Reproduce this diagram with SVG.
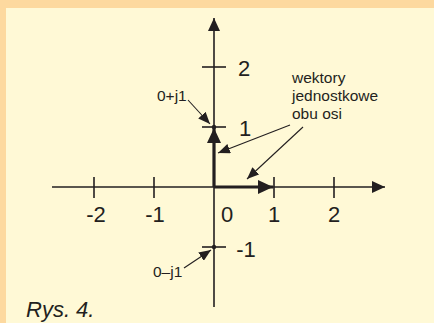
<svg xmlns="http://www.w3.org/2000/svg" width="434" height="323" viewBox="0 0 434 323">
<defs>
<style>
.ax{stroke:#231f20;stroke-width:1.6;fill:none}
.vec{stroke:#231f20;stroke-width:3.2;fill:none}
.ptr{stroke:#231f20;stroke-width:1.1;fill:none}
.lbl{font-family:"Liberation Sans",Arial,sans-serif;font-size:22px;fill:#231f20}
.sm{font-family:"Liberation Sans",Arial,sans-serif;font-size:15.5px;fill:#231f20}
.cap{font-family:"Liberation Sans",Arial,sans-serif;font-size:22px;font-style:italic;fill:#231f20}
</style>
<marker id="ah" viewBox="0 0 12 10" refX="12" refY="5" markerWidth="12" markerHeight="10" markerUnits="userSpaceOnUse" orient="auto"><path d="M0,0 L12,5 L0,10 Z" fill="#231f20"/></marker>
<marker id="axh" viewBox="0 0 13 12" refX="13" refY="6" markerWidth="13" markerHeight="12" markerUnits="userSpaceOnUse" orient="auto"><path d="M0,0 L13,6 L0,12 Z" fill="#231f20"/></marker>
<marker id="vh" viewBox="0 0 15 14" refX="15" refY="7" markerWidth="15" markerHeight="14" markerUnits="userSpaceOnUse" orient="auto"><path d="M0,0 L15,7 L0,14 Z" fill="#231f20"/></marker>
</defs>
<rect x="0" y="0" width="434" height="323" fill="#fdd99f"/>
<rect x="6" y="8" width="428" height="315" fill="#fff9d6"/>
<g id="connectors">
<line id="x-axis" class="ax" x1="52" y1="187" x2="385" y2="187" marker-end="url(#axh)"/>
<line id="y-axis" class="ax" x1="214" y1="307" x2="214" y2="18" marker-end="url(#axh)"/>
<line class="ax" x1="94" y1="177" x2="94" y2="198"/>
<line class="ax" x1="154" y1="177" x2="154" y2="198"/>
<line class="ax" x1="274" y1="177" x2="274" y2="198"/>
<line class="ax" x1="334" y1="177" x2="334" y2="198"/>
<line class="ax" x1="202" y1="67" x2="226" y2="67"/>
<line class="ax" x1="202" y1="127" x2="226" y2="127"/>
<line class="ax" x1="202" y1="247" x2="226" y2="247"/>
<line class="vec" x1="214" y1="187" x2="214" y2="128" marker-end="url(#vh)"/>
<line class="vec" x1="214" y1="187" x2="273" y2="187" marker-end="url(#vh)"/>
<line class="ptr" x1="188" y1="100" x2="210" y2="124" marker-end="url(#ah)"/>
<line class="ptr" x1="184" y1="268" x2="211" y2="250" marker-end="url(#ah)"/>
<line class="ptr" x1="290" y1="125" x2="218" y2="153" marker-end="url(#ah)"/>
<line class="ptr" x1="303" y1="127" x2="247" y2="179" marker-end="url(#ah)"/>
</g>
<g id="points">
<circle cx="214" cy="127" r="2.2" fill="#231f20"/>
<circle cx="214" cy="247" r="2.2" fill="#231f20"/>
</g>
<g id="labels-x">
<text class="lbl" x="96" y="222" text-anchor="middle">-2</text>
<text class="lbl" x="155" y="222" text-anchor="middle">-1</text>
<text class="lbl" x="227" y="222" text-anchor="middle">0</text>
<text class="lbl" x="274" y="222" text-anchor="middle">1</text>
<text class="lbl" x="334" y="222" text-anchor="middle">2</text>
</g>
<g id="labels-y">
<text class="lbl" x="244" y="76" text-anchor="middle">2</text>
<text class="lbl" x="245" y="136" text-anchor="middle">1</text>
<text class="lbl" x="246" y="257" text-anchor="middle">-1</text>
</g>
<g id="note-plus"><text class="sm" x="157" y="101">0+j1</text></g>
<g id="note-minus"><text class="sm" x="153" y="277">0–j1</text></g>
<g id="note-vectors">
<text class="sm" x="292" y="83">wektory</text>
<text class="sm" x="292" y="101">jednostkowe</text>
<text class="sm" x="292" y="119">obu osi</text>
</g>
<text class="cap" x="26" y="317">Rys. 4.</text>
</svg>
